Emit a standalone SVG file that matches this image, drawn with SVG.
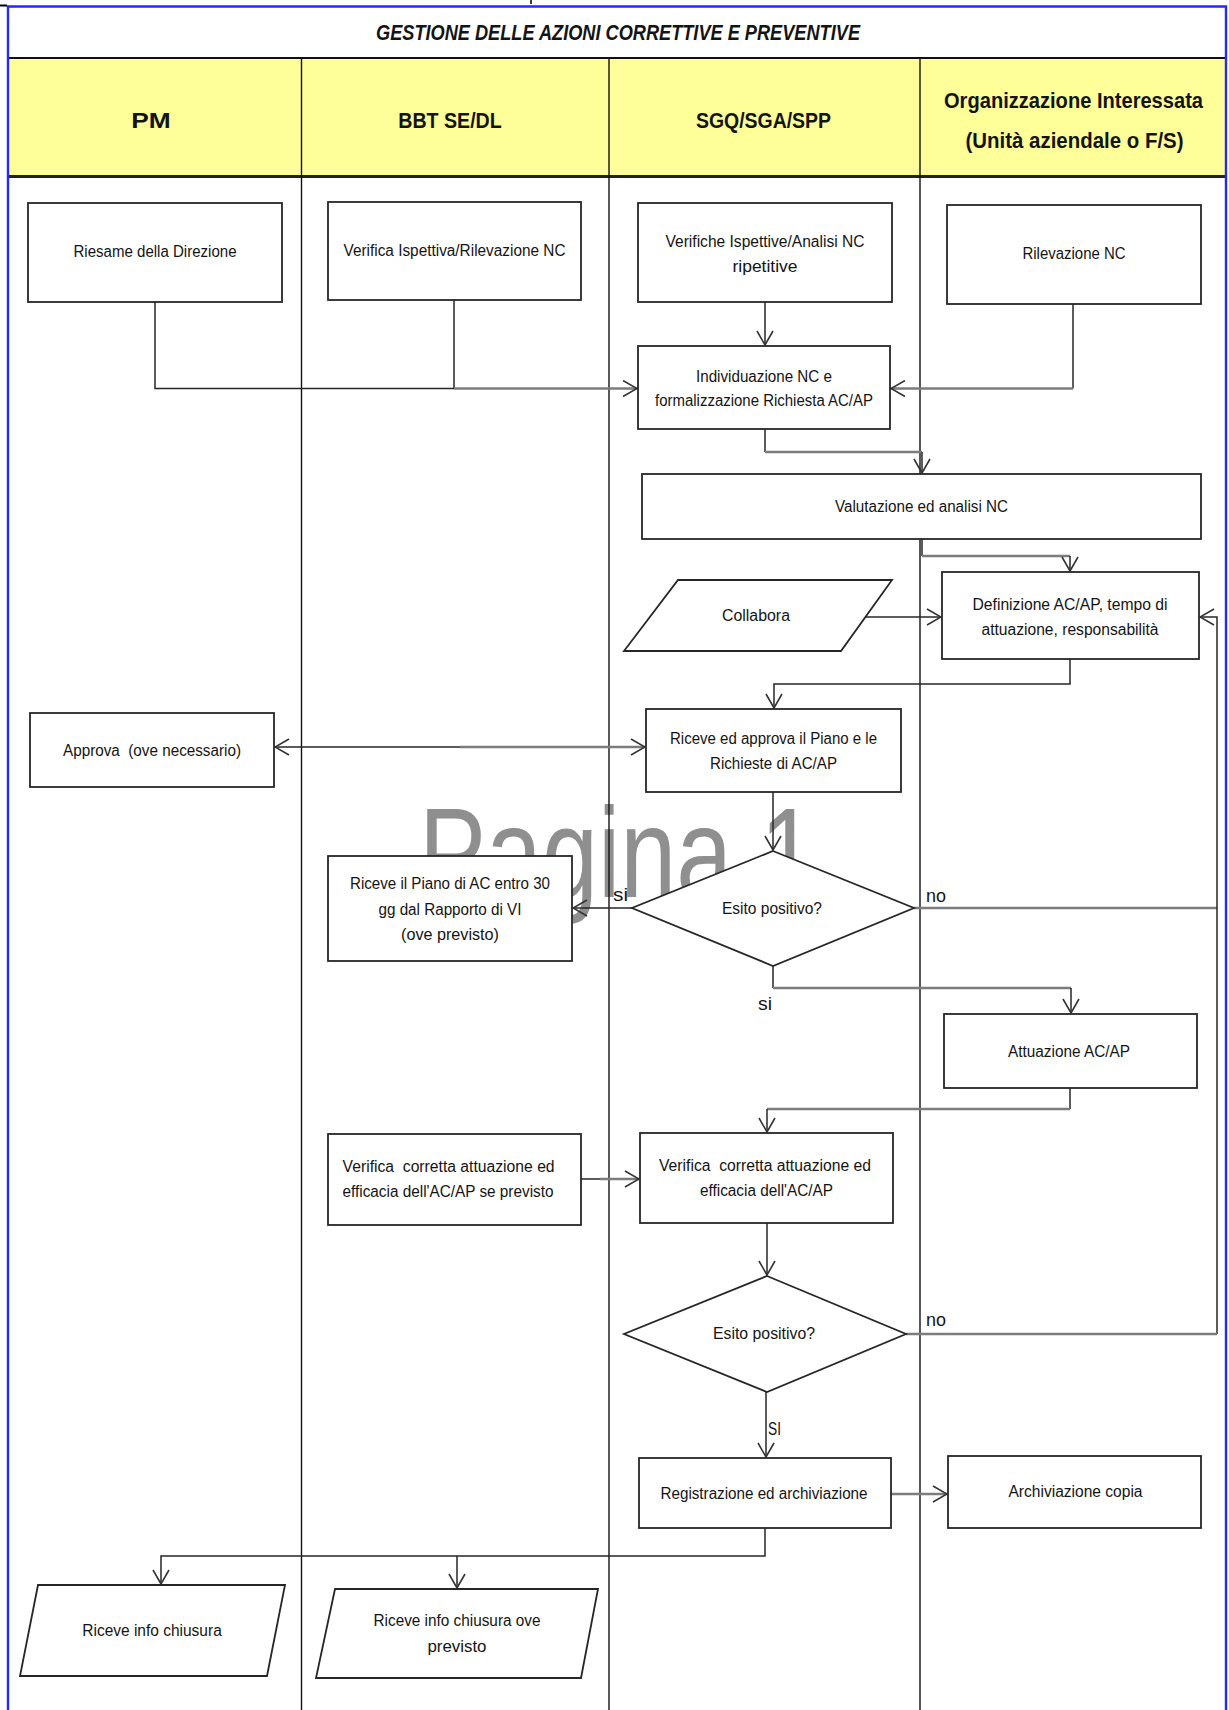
<svg xmlns="http://www.w3.org/2000/svg" width="1229" height="1710" viewBox="0 0 1229 1710">
<style>
.box{fill:#fff;stroke:#262626;stroke-width:1.8}
.t{font-family:"Liberation Sans",Arial,sans-serif;font-size:16px;fill:#141414;text-anchor:middle}
.h{font-family:"Liberation Sans",Arial,sans-serif;font-size:22px;font-weight:bold;fill:#141414;text-anchor:middle}
.lbl{font-family:"Liberation Sans",Arial,sans-serif;font-size:18px;fill:#141414}
.c{fill:none;stroke:#262626;stroke-width:1.5}
.g{fill:none;stroke:#7c7c7c;stroke-width:2.6}
.lane{stroke:#111;stroke-width:1.4}
</style>
<defs>
<marker id="a" viewBox="0 0 16 18" refX="15" refY="9" markerWidth="16" markerHeight="18" markerUnits="userSpaceOnUse" orient="auto-start-reverse">
<path d="M1,1 L15,9 L1,17" fill="none" stroke="#333" stroke-width="1.6"/>
</marker>
</defs>
<rect width="1229" height="1710" fill="#fff"/>
<!-- watermark -->
<text x="419" y="897" font-family="'Liberation Sans',Arial,sans-serif" font-size="128" fill="#8f8f8f" textLength="397" lengthAdjust="spacingAndGlyphs">Pagina 1</text>
<!-- header -->
<g id="frame">
<rect x="8" y="58" width="1218" height="118" fill="#ffff99"/>
<line x1="8" y1="58" x2="1226" y2="58" stroke="#111" stroke-width="2.2"/>
<line x1="8" y1="176.5" x2="1226" y2="176.5" stroke="#222" stroke-width="3"/>
<line class="lane" x1="301.5" y1="58" x2="301.5" y2="1710"/>
<line class="lane" x1="609" y1="58" x2="609" y2="1710"/>
<line class="lane" x1="920" y1="58" x2="920" y2="1710"/>
<path d="M8,1712 V6.5 H1226 V1712" fill="none" stroke="#2626ff" stroke-width="2.4"/>
<line x1="0" y1="5.5" x2="7" y2="5.5" stroke="#000" stroke-width="2"/>
<line x1="531" y1="0" x2="531" y2="4" stroke="#000" stroke-width="1.5"/>
<text x="618" y="40" font-family="'Liberation Sans',Arial,sans-serif" font-size="22" font-weight="bold" font-style="italic" fill="#141414" text-anchor="middle" textLength="484" lengthAdjust="spacingAndGlyphs">GESTIONE DELLE AZIONI CORRETTIVE E PREVENTIVE</text>
<text class="h" x="151" y="128" textLength="39.5" lengthAdjust="spacingAndGlyphs">PM</text>
<text class="h" x="450" y="128" textLength="103.5" lengthAdjust="spacingAndGlyphs">BBT SE/DL</text>
<text class="h" x="763.5" y="128" textLength="135" lengthAdjust="spacingAndGlyphs">SGQ/SGA/SPP</text>
<text class="h" x="1073.5" y="108" textLength="259" lengthAdjust="spacingAndGlyphs">Organizzazione Interessata</text>
<text class="h" x="1074.5" y="148" textLength="218" lengthAdjust="spacingAndGlyphs">(Unità aziendale o F/S)</text>
</g>
<!-- connectors -->
<g id="connectors">
<path class="c" d="M155,302 V388.5 H454"/>
<path class="c" d="M454,300 V388.5"/>
<path class="g" d="M454,388.5 H637" marker-end="url(#a)"/>
<path class="c" d="M765,302 V345" marker-end="url(#a)"/>
<path class="c" d="M1073,304 V388.5"/>
<path class="g" d="M1073,388.5 H891" marker-end="url(#a)"/>
<path class="c" d="M765,429 V452"/>
<path class="g" d="M765,452 H922"/>
<path class="c" d="M922,452 V473" marker-end="url(#a)"/>
<path class="c" d="M922,539 V556"/>
<path class="g" d="M922,556 H1070"/>
<path class="c" d="M1070,556 V571" marker-end="url(#a)"/>
<path class="c" d="M866,617 H941" marker-end="url(#a)"/>
<path class="c" d="M1070,659 V684 H774 V708" marker-end="url(#a)"/>
<path class="c" d="M460,747 H275" marker-end="url(#a)"/>
<path class="g" d="M460,747 H645" marker-end="url(#a)"/>
<path class="c" d="M773,792 V850" marker-end="url(#a)"/>
<path class="c" d="M632,908 H573" marker-end="url(#a)"/>
<path class="g" d="M914,908 H1217"/>
<path class="c" d="M1217,1334 V617 H1200" marker-end="url(#a)"/>
<path class="c" d="M773,966 V988"/>
<path class="g" d="M773,988 H1071"/>
<path class="c" d="M1071,988 V1013" marker-end="url(#a)"/>
<path class="c" d="M1070,1088 V1109"/>
<path class="g" d="M1070,1109 H767"/>
<path class="c" d="M767,1109 V1132" marker-end="url(#a)"/>
<path class="c" d="M581,1179 H600"/>
<path class="g" d="M600,1179 H639" marker-end="url(#a)"/>
<path class="c" d="M767,1223 V1275" marker-end="url(#a)"/>
<path class="g" d="M906,1334 H1217"/>
<path class="c" d="M766,1392 V1457" marker-end="url(#a)"/>
<path class="g" d="M891,1494 H947" marker-end="url(#a)"/>
<path class="c" d="M765,1528 V1556 H161 V1584" marker-end="url(#a)"/>
<path class="c" d="M457,1556 V1588" marker-end="url(#a)"/>
<text class="lbl" x="613" y="901" textLength="15" lengthAdjust="spacingAndGlyphs">si</text>
<text class="lbl" x="926" y="902" textLength="20" lengthAdjust="spacingAndGlyphs">no</text>
<text class="lbl" x="758" y="1010" textLength="14" lengthAdjust="spacingAndGlyphs">si</text>
<text class="lbl" x="926" y="1326" textLength="20" lengthAdjust="spacingAndGlyphs">no</text>
<text class="lbl" x="768" y="1435" textLength="13" lengthAdjust="spacingAndGlyphs">SI</text>
</g>
<!-- nodes -->
<g id="n-riesame"><rect class="box" x="28" y="203" width="254" height="99"/>
<text class="t" x="155" y="257" textLength="163" lengthAdjust="spacingAndGlyphs">Riesame della Direzione</text></g>
<g id="n-verifica-isp"><rect class="box" x="328" y="202" width="253" height="98"/>
<text class="t" x="454.5" y="256" textLength="222" lengthAdjust="spacingAndGlyphs">Verifica Ispettiva/Rilevazione NC</text></g>
<g id="n-verifiche"><rect class="box" x="638" y="203" width="254" height="99"/>
<text class="t" x="765" y="247" textLength="199" lengthAdjust="spacingAndGlyphs">Verifiche Ispettive/Analisi NC</text>
<text class="t" x="765" y="272" textLength="65" lengthAdjust="spacingAndGlyphs">ripetitive</text></g>
<g id="n-rilevazione"><rect class="box" x="947" y="205" width="254" height="99"/>
<text class="t" x="1074" y="259" textLength="103" lengthAdjust="spacingAndGlyphs">Rilevazione NC</text></g>
<g id="n-individuazione"><rect class="box" x="638" y="346" width="252" height="83"/>
<text class="t" x="764" y="382" textLength="136" lengthAdjust="spacingAndGlyphs">Individuazione NC e</text>
<text class="t" x="764" y="406" textLength="218" lengthAdjust="spacingAndGlyphs">formalizzazione Richiesta AC/AP</text></g>
<g id="n-valutazione"><rect class="box" x="642" y="474" width="559" height="65"/>
<text class="t" x="921.5" y="512" textLength="173" lengthAdjust="spacingAndGlyphs">Valutazione ed analisi NC</text></g>
<g id="n-collabora"><polygon class="box" points="678,580 892,580 841,651 624,651"/>
<text class="t" x="756" y="621" textLength="68" lengthAdjust="spacingAndGlyphs">Collabora</text></g>
<g id="n-definizione"><rect class="box" x="942" y="572" width="257" height="87"/>
<text class="t" x="1070" y="610" textLength="195" lengthAdjust="spacingAndGlyphs">Definizione AC/AP, tempo di</text>
<text class="t" x="1070" y="635" textLength="177" lengthAdjust="spacingAndGlyphs">attuazione, responsabilità</text></g>
<g id="n-riceve-approva"><rect class="box" x="646" y="709" width="255" height="83"/>
<text class="t" x="773.5" y="744" textLength="207" lengthAdjust="spacingAndGlyphs">Riceve ed approva il Piano e le</text>
<text class="t" x="773.5" y="769" textLength="127" lengthAdjust="spacingAndGlyphs">Richieste di AC/AP</text></g>
<g id="n-approva"><rect class="box" x="30" y="713" width="244" height="74"/>
<text class="t" x="152" y="756" xml:space="preserve" textLength="178" lengthAdjust="spacingAndGlyphs">Approva  (ove necessario)</text></g>
<g id="n-esito1"><polygon class="box" points="773,851 914,908 773,966 632,908"/>
<text class="t" x="772" y="914" textLength="100" lengthAdjust="spacingAndGlyphs">Esito positivo?</text></g>
<g id="n-riceve-piano"><rect class="box" x="328" y="856" width="244" height="105"/>
<text class="t" x="450" y="889" textLength="200" lengthAdjust="spacingAndGlyphs">Riceve il Piano di AC entro 30</text>
<text class="t" x="450" y="915" textLength="143" lengthAdjust="spacingAndGlyphs">gg dal Rapporto di VI</text>
<text class="t" x="450" y="940" textLength="98" lengthAdjust="spacingAndGlyphs">(ove previsto)</text></g>
<g id="n-attuazione"><rect class="box" x="944" y="1014" width="253" height="74"/>
<text class="t" x="1069" y="1057" textLength="122" lengthAdjust="spacingAndGlyphs">Attuazione AC/AP</text></g>
<g id="n-verifica-sgq"><rect class="box" x="640" y="1133" width="253" height="90"/>
<text class="t" x="765" y="1171" xml:space="preserve" textLength="212" lengthAdjust="spacingAndGlyphs">Verifica  corretta attuazione ed</text>
<text class="t" x="766.5" y="1196" textLength="133" lengthAdjust="spacingAndGlyphs">efficacia dell'AC/AP</text></g>
<g id="n-verifica-bbt"><rect class="box" x="328" y="1134" width="253" height="91"/>
<text class="t" x="448.6" y="1172" xml:space="preserve" textLength="212" lengthAdjust="spacingAndGlyphs">Verifica  corretta attuazione ed</text>
<text class="t" x="448" y="1197" textLength="211" lengthAdjust="spacingAndGlyphs">efficacia dell'AC/AP se previsto</text></g>
<g id="n-esito2"><polygon class="box" points="767,1276 906,1334 767,1392 624,1334"/>
<text class="t" x="764" y="1339" textLength="102" lengthAdjust="spacingAndGlyphs">Esito positivo?</text></g>
<g id="n-registrazione"><rect class="box" x="639" y="1458" width="252" height="70"/>
<text class="t" x="764" y="1499" textLength="207" lengthAdjust="spacingAndGlyphs">Registrazione ed archiviazione</text></g>
<g id="n-archiviazione"><rect class="box" x="948" y="1456" width="253" height="72"/>
<text class="t" x="1075.5" y="1497" textLength="134" lengthAdjust="spacingAndGlyphs">Archiviazione copia</text></g>
<g id="n-info-pm"><polygon class="box" points="38,1585 285,1585 267,1676 20,1676"/>
<text class="t" x="152" y="1636" textLength="139.5" lengthAdjust="spacingAndGlyphs">Riceve info chiusura</text></g>
<g id="n-info-bbt"><polygon class="box" points="335,1589 598,1589 581,1678 316,1678"/>
<text class="t" x="457" y="1626" textLength="167" lengthAdjust="spacingAndGlyphs">Riceve info chiusura ove</text>
<text class="t" x="457" y="1652" textLength="59" lengthAdjust="spacingAndGlyphs">previsto</text></g>
</svg>
